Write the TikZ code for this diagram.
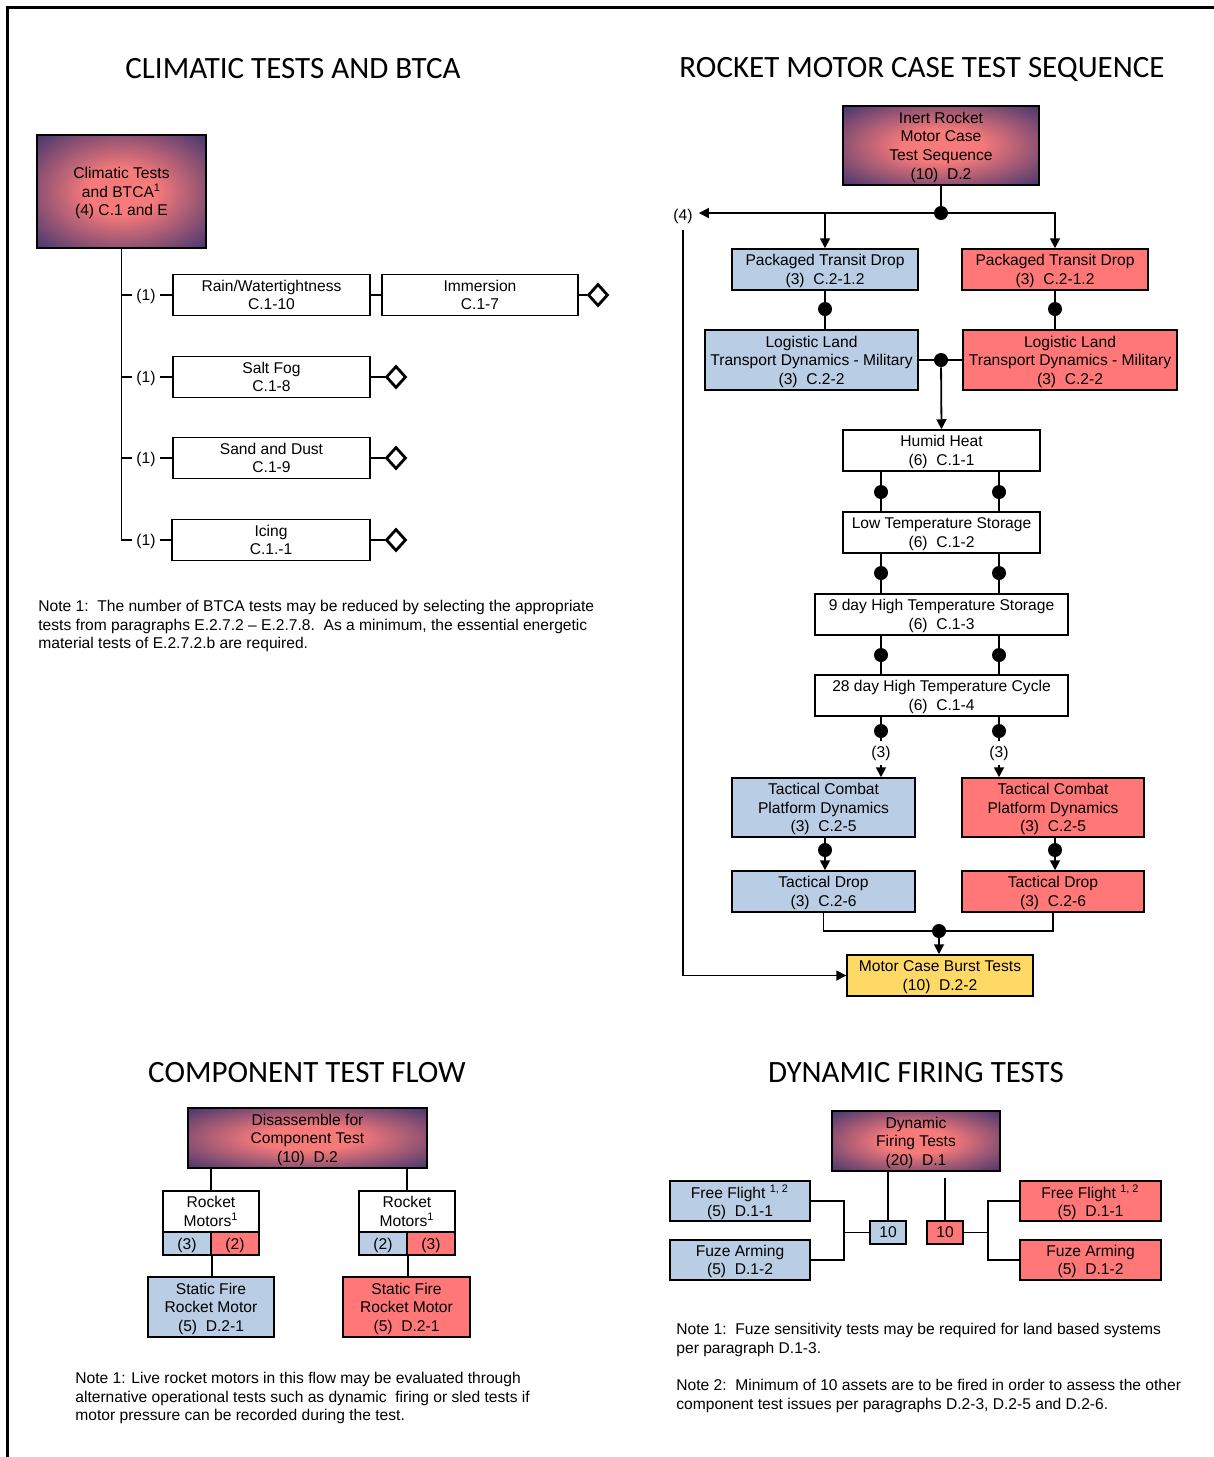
\documentclass[tikz,border=0pt]{standalone}
\usepackage{fontspec}
\setmainfont{Liberation Sans}
\newfontfamily\titlefont{Carlito}
\usetikzlibrary{arrows.meta, shapes.geometric}

\definecolor{hdrin}{HTML}{F77A7A}
\definecolor{hdrout}{HTML}{262A6C}
\definecolor{cellblue}{HTML}{B9CDE5}
\definecolor{cellred}{HTML}{FF7777}
\definecolor{cellyellow}{HTML}{FFD966}
\pgfdeclareradialshading{hdrglow}{\pgfpointorigin}{color(0bp)=(hdrin); color(10bp)=(hdrin); color(40bp)=(hdrout); color(50bp)=(hdrout)}

\newcommand{\boxfont}{\fontsize{7.8}{9.3}\selectfont}

\tikzset{
  tbox/.style={draw, line width=0.75pt, inner sep=0pt, align=center, font=\boxfont, text depth=-3pt},
  wh/.style 2 args={minimum width=#1*0.5pt, minimum height=#2*0.5pt},
  hdr/.style={tbox, shading=hdrglow},
  bluebox/.style={tbox, fill=cellblue},
  redbox/.style={tbox, fill=cellred},
  yellowbox/.style={tbox, fill=cellyellow},
  jdot/.style={circle, fill, inner sep=0pt, minimum size=7pt},
  countlbl/.style={inner sep=2pt, font=\boxfont},
  endmark/.style={diamond, draw, line width=1.4pt, inner sep=0pt, minimum width=10pt, minimum height=11pt},
  heading/.style={font=\titlefont\fontsize{15.5}{18}\selectfont},
  note/.style={anchor=north west, align=left, inner sep=0pt, font=\boxfont},
  link/.style={line width=0.9pt},
  arr/.style={link, -{Triangle[length=5pt, width=5pt]}}
}

\begin{document}
\begin{tikzpicture}[x=0.5pt, y=-0.5pt]
\useasboundingbox (0,0) rectangle (1214,1457);
% Page frame:
\draw[line width=1.5pt] (7,1457) -- (7,7) -- (1214,7);

% Climatic tests and BTCA:
\node[heading] (climtitle) at (293,69) {CLIMATIC TESTS AND BTCA};
\node[hdr, wh={169}{113}] (clim) at (121.5,191.5) {Climatic Tests\\and BTCA\textsuperscript{1}\\(4) C.1 and E};
\node[tbox, wh={197}{41}] (rain) at (271.5,295) {Rain/Watertightness\\C.1-10};
\node[tbox, wh={196}{41}] (immersion) at (480,295) {Immersion\\C.1-7};
\node[tbox, wh={197}{41}] (saltfog) at (271.5,377) {Salt Fog\\C.1-8};
\node[tbox, wh={197}{41}] (sanddust) at (271.5,458) {Sand and Dust\\C.1-9};
\node[tbox, wh={198}{41}] (icing) at (271,540) {Icing\\C.1.-1};
\foreach \row/\y in {rain/295, saltfog/377, sanddust/458, icing/540}
  \node[countlbl] (n\row) at (146,\y+1) {(1)};
\node[endmark] (endimm) at (598,295) {};
\node[endmark] (endsalt) at (396,377) {};
\node[endmark] (endsand) at (396,458) {};
\node[endmark] (endice) at (396,540) {};

\draw[link] (clim.south) |- (nicing.west |- icing.west);
\foreach \row in {rain, saltfog, sanddust}
  \draw[link] (clim.south |- \row.west) -- (n\row.west |- \row.west);
\foreach \row in {rain, saltfog, sanddust, icing}
  \draw[link] (n\row.east |- \row.west) -- (\row.west);
\draw[link] (rain.east) -- (immersion.west);
\draw[link] (immersion.east) -- (endimm.west);
\draw[link] (saltfog.east) -- (endsalt.west);
\draw[link] (sanddust.east) -- (endsand.west);
\draw[link] (icing.east) -- (endice.west);

\node[note] (climnote) at (38,600) {Note 1:\ \ The number of BTCA tests may be reduced by selecting the appropriate\\tests from paragraphs E.2.7.2 – E.2.7.8.\ \ As a minimum, the essential energetic\\material tests of E.2.7.2.b are required.};

% Rocket motor case test sequence:
\node[heading] (casetitle) at (922,69) {ROCKET MOTOR CASE TEST SEQUENCE};
\node[hdr, wh={196}{79}] (inert) at (941,145.5) {Inert Rocket\\Motor Case\\Test Sequence\\(10)\ \ D.2};
\node[jdot] (jtop) at (941,213) {};
\node[countlbl, inner sep=3pt] (four) at (683,216) {(4)};
\node[bluebox, wh={186}{41}] (ptdb) at (825,269.5) {Packaged Transit Drop\\(3)\ \ C.2-1.2};
\node[redbox, wh={186}{41}] (ptdr) at (1055,269.5) {Packaged Transit Drop\\(3)\ \ C.2-1.2};
\node[jdot] (jb1) at (825,309) {};
\node[jdot] (jr1) at (1055,309) {};
\node[bluebox, wh={213}{60}] (lltb) at (811.5,360) {Logistic Land\\Transport Dynamics - Military\\(3)\ \ C.2-2};
\node[redbox, wh={214}{60}] (lltr) at (1070,360) {Logistic Land\\Transport Dynamics - Military\\(3)\ \ C.2-2};
\node[jdot] (jmid) at (941,360) {};
\node[tbox, wh={197}{41}] (humid) at (941.5,450.5) {Humid Heat\\(6)\ \ C.1-1};
\node[tbox, wh={197}{41}] (lowtemp) at (941.5,532.5) {Low Temperature Storage\\(6)\ \ C.1-2};
\node[tbox, wh={253}{41}] (hightemp) at (941.5,614.5) {9 day High Temperature Storage\\(6)\ \ C.1-3};
\node[tbox, wh={253}{41}] (hicycle) at (941.5,695.5) {28 day High Temperature Cycle\\(6)\ \ C.1-4};
\node[bluebox, wh={183}{59}] (tcpb) at (823.5,807.5) {Tactical Combat\\Platform Dynamics\\(3)\ \ C.2-5};
\node[redbox, wh={182}{59}] (tcpr) at (1053,807.5) {Tactical Combat\\Platform Dynamics\\(3)\ \ C.2-5};
\node[jdot] (jb3) at (825,850) {};
\node[jdot] (jr3) at (1055,850) {};
\node[bluebox, wh={183}{41}] (tdb) at (823.5,891.5) {Tactical Drop\\(3)\ \ C.2-6};
\node[redbox, wh={182}{41}] (tdr) at (1053,891.5) {Tactical Drop\\(3)\ \ C.2-6};
\node[jdot] (jbot) at (939,931) {};
\node[yellowbox, wh={186}{41}] (burst) at (940,975.5) {Motor Case Burst Tests\\(10)\ \ D.2-2};

\draw[link] (inert.south) -- (jtop);
\draw[arr] (jtop) -- (jtop -| four.east);
\draw[arr] (jtop -| ptdb.north) -- (ptdb.north);
\draw[arr] (jtop) -| (ptdr.north);
\draw[link] (ptdb.south) -- (jb1) -- (jb1 |- lltb.north);
\draw[link] (ptdr.south) -- (jr1) -- (jr1 |- lltr.north);
\draw[link] (lltb.east) -- (jmid) -- (lltr.west);
\draw[arr] (jmid) -- (humid.north);
\foreach \up/\dn/\y in {humid/lowtemp/492, lowtemp/hightemp/573, hightemp/hicycle/655}
  \foreach \x in {881,999} {
    \node[jdot] (d\y\x) at (\x,\y) {};
    \draw[link] (d\y\x |- \up.south) -- (d\y\x |- \dn.north);
  }
\foreach \x/\tgt in {881/tcpb, 999/tcpr} {
  \node[jdot] (d731\x) at (\x,731) {};
  \node[countlbl] (c\x) at (\x,753) {(3)};
  \draw[link] (d731\x |- hicycle.south) -- (c\x.north);
  \draw[arr] (c\x.south) -- (c\x.south |- \tgt.north);
}
\draw[link] (jb3 |- tcpb.south) -- (jb3);
\draw[arr] (jb3) -- (jb3 |- tdb.north);
\draw[link] (jr3 |- tcpr.south) -- (jr3);
\draw[arr] (jr3) -- (jr3 |- tdr.north);
\draw[link] (tdb.south) |- (jbot) -| (tdr.south);
\draw[arr] (jbot) -- (jbot |- burst.north);
\draw[arr] (four.south) |- (burst.west);

% Component test flow:
\node[heading] (comptitle) at (307,1073) {COMPONENT TEST FLOW};
\node[hdr, wh={239}{60}] (disasm) at (307.5,1138) {Disassemble for\\Component Test\\(10)\ \ D.2};
\node[tbox, fill=white, wh={96}{41}] (rml) at (211,1211.5) {Rocket\\Motors\textsuperscript{1}};
\node[bluebox, wh={48}{23}] (rmlb) at (187,1243.5) {(3)};
\node[redbox, wh={48}{23}] (rmlr) at (235,1243.5) {(2)};
\node[tbox, fill=white, wh={96}{41}] (rmr) at (407,1211.5) {Rocket\\Motors\textsuperscript{1}};
\node[bluebox, wh={48}{23}] (rmrb) at (383,1243.5) {(2)};
\node[redbox, wh={48}{23}] (rmrr) at (431,1243.5) {(3)};
\node[bluebox, wh={126}{60}] (sfb) at (211,1307) {Static Fire\\Rocket Motor\\(5)\ \ D.2-1};
\node[redbox, wh={127}{60}] (sfr) at (406.5,1307) {Static Fire\\Rocket Motor\\(5)\ \ D.2-1};

\draw[link] (disasm.south -| rml.north) -- (rml.north);
\draw[link] (disasm.south -| rmr.north) -- (rmr.north);
\draw[link] (rmlb.south east) -- (rmlb.south east |- sfb.north);
\draw[link] (rmrb.south east) -- (rmrb.south east |- sfr.north);

\node[note] (compnote) at (75,1372) {Note 1: Live rocket motors in this flow may be evaluated through\\alternative operational tests such as dynamic\ \ firing or sled tests if\\motor pressure can be recorded during the test.};

% Dynamic firing tests:
\node[heading] (dyntitle) at (916,1073) {DYNAMIC FIRING TESTS};
\node[hdr, wh={168}{60}] (dynfire) at (916,1141) {Dynamic\\Firing Tests\\(20)\ \ D.1};
\node[bluebox, wh={140}{40}] (ffb) at (740,1201) {Free Flight \textsuperscript{1, 2}\\(5)\ \ D.1-1};
\node[bluebox, wh={140}{40}] (fab) at (740,1260) {Fuze Arming\\(5)\ \ D.1-2};
\node[bluebox, wh={36}{23}] (tenb) at (888,1232.5) {10};
\node[redbox, wh={36}{23}] (tenr) at (945,1232.5) {10};
\node[redbox, wh={141}{40}] (ffr) at (1090.5,1201) {Free Flight \textsuperscript{1, 2}\\(5)\ \ D.1-1};
\node[redbox, wh={141}{40}] (far) at (1090.5,1260) {Fuze Arming\\(5)\ \ D.1-2};
\coordinate (jleft) at (844,1232.5);
\coordinate (jright) at (988,1232.5);

\draw[link] (ffb.east) -| (jleft) |- (fab.east);
\draw[link] (jleft) -- (tenb.west);
\draw[link] (dynfire.south -| tenb.north) -- (tenb.north);
\draw[link] ([yshift=-3pt]dynfire.south -| tenr.north) -- (tenr.north);
\draw[link] (tenr.east) -- (jright);
\draw[link] (ffr.west) -| (jright) |- (far.west);

\node[note] (dynnote1) at (676,1323) {Note 1:\ \ Fuze sensitivity tests may be required for land based systems\\per paragraph D.1-3.};
\node[note] (dynnote2) at (676,1379) {Note 2:\ \ Minimum of 10 assets are to be fired in order to assess the other\\component test issues per paragraphs D.2-3, D.2-5 and D.2-6.};
\end{tikzpicture}
\end{document}
